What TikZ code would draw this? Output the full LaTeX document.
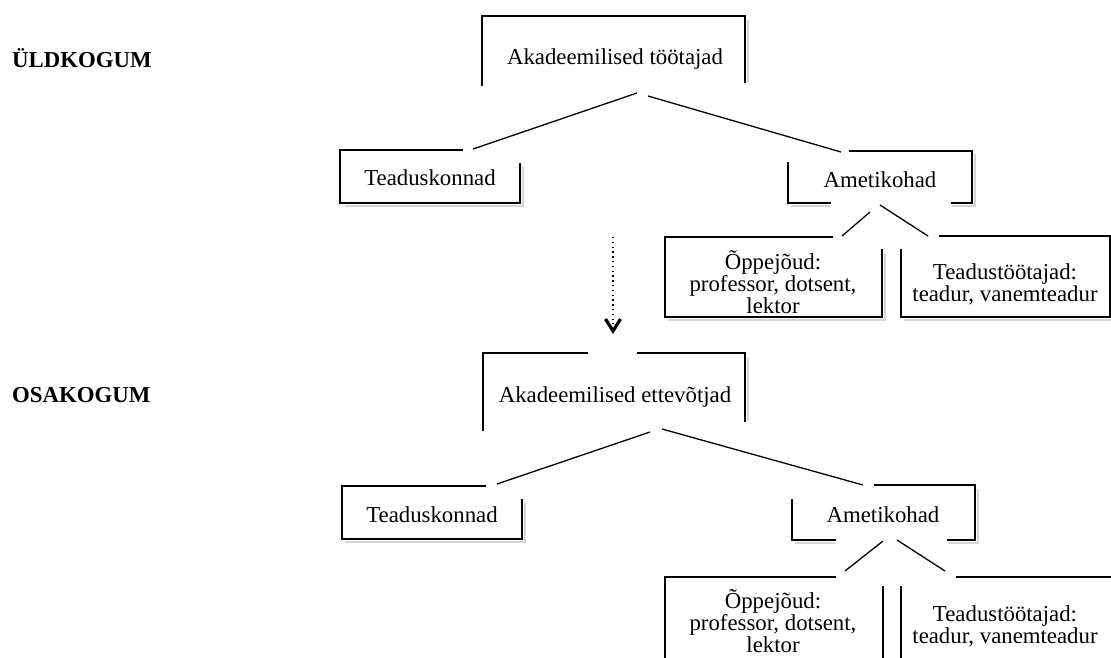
\documentclass[tikz,border=0pt]{standalone}
\usepackage{fontspec}
\setmainfont{Liberation Serif}
\tikzset{
  boxline/.style={line width=1.6pt, line join=miter, line cap=rect},
  shad/.style={line width=2.6pt, black!16},
  conn/.style={line width=1.3pt},
  txt/.style={align=center, inner sep=0pt, font=\fontsize{22.8}{22.3}\selectfont},
  lbl/.style={anchor=west, inner sep=0pt, font=\fontsize{22.8}{22.5}\selectfont\bfseries},
  dots/.style={line width=1.4pt, dash pattern=on 1.4pt off 3.4pt},
  tipline/.style={line width=3.2pt, line join=miter}
}
\begin{document}
\begin{tikzpicture}[x=1pt,y=-1pt]
\useasboundingbox[fill=white] (0,0) rectangle (1111,657);

% ---------- labels ----------
\node[lbl] (lab1) at (12,58) {ÜLDKOGUM};
\node[lbl] (lab2) at (12,395) {OSAKOGUM};

% ---------- shadows ----------
\draw[shad] (345,206) -- (523,206) -- (523,167);
\draw[shad] (791,206) -- (830,206);
\draw[shad] (952,206) -- (975,206) -- (975,154);
\draw[shad] (668,320) -- (885,320) -- (885,253);
\draw[shad] (904,320) -- (1111,320);
\draw[shad] (748,20) -- (748,82);
\draw[shad] (345,542) -- (525,542) -- (525,503);
\draw[shad] (795,543) -- (835,543);
\draw[shad] (948,543) -- (978,543) -- (978,489);
\draw[shad] (748,357) -- (748,421);

% ---------- upper boxes ----------
\draw[boxline] (482,85) -- (482,16) -- (745,16) -- (745,82);
\draw[boxline] (462,150) -- (340,150) -- (340,203) -- (520,203) -- (520,164);
\draw[boxline] (850,151) -- (972,151) -- (972,203) -- (952,203);
\draw[boxline] (830,203) -- (788,203) -- (788,163);
\draw[boxline] (832,237) -- (665,237) -- (665,317) -- (882,317) -- (882,250);
\draw[boxline] (940,236) -- (1110,236) -- (1110,317) -- (901,317) -- (901,250);

% ---------- lower boxes ----------
\draw[boxline] (587,353) -- (483,353) -- (483,430);
\draw[boxline] (638,353) -- (745,353) -- (745,421);
\draw[boxline] (485,486) -- (342,486) -- (342,539) -- (522,539) -- (522,500);
\draw[boxline] (875,485) -- (975,485) -- (975,540) -- (948,540);
\draw[boxline] (835,540) -- (792,540) -- (792,500);
\draw[boxline] (835,577) -- (665,577) -- (665,662);
\draw[boxline] (883,587) -- (883,662);
\draw[boxline] (901,662) -- (901,587);
\draw[boxline] (957,577) -- (1115,577);

% ---------- texts ----------
\node[txt] (a1) at (615,59) {Akadeemilised töötajad};
\node[txt] (t1) at (430,178) {Teaduskonnad};
\node[txt] (m1) at (880,180) {Ametikohad};
\node[txt] (o1) at (773,282) {Õppejõud:\\professor, dotsent,\\lektor};
\node[txt] (r1) at (1005,284) {Teadustöötajad:\\teadur, vanemteadur};

\node[txt] (a2) at (615,397) {Akadeemilised ettevõtjad};
\node[txt] (t2) at (432,515) {Teaduskonnad};
\node[txt] (m2) at (883,515) {Ametikohad};
\node[txt] (o2) at (773,621) {Õppejõud:\\professor, dotsent,\\lektor};
\node[txt] (r2) at (1005,626) {Teadustöötajad:\\teadur, vanemteadur};

% ---------- connector end points ----------
\coordinate (a1L) at (637,93);
\coordinate (a1R) at (648,96);
\coordinate (t1T) at (473,149);
\coordinate (m1T) at (841,152);
\coordinate (m1L) at (870,212);
\coordinate (m1R) at (880,205);
\coordinate (o1T) at (842,236);
\coordinate (r1T) at (928,236);

\coordinate (a2L) at (650,432);
\coordinate (a2R) at (662,429);
\coordinate (t2T) at (497,484);
\coordinate (m2T) at (863,485);
\coordinate (m2L) at (883,541);
\coordinate (m2R) at (897,540);
\coordinate (o2T) at (845,571);
\coordinate (r2T) at (945,571);

\coordinate (arS) at (613,237);
\coordinate (arE) at (613,331);

% ---------- connectors ----------
\draw[conn] (a1L) -- (t1T);
\draw[conn] (a1R) -- (m1T);
\draw[conn] (m1L) -- (o1T);
\draw[conn] (m1R) -- (r1T);

\draw[conn] (a2L) -- (t2T);
\draw[conn] (a2R) -- (m2T);
\draw[conn] (m2L) -- (o2T);
\draw[conn] (m2R) -- (r2T);

% dotted arrow between the two trees
\draw[dots] (arS) -- ([yshift=7pt]arE);
\draw[tipline] ([xshift=-7.5pt,yshift=12pt]arE) -- (arE) -- ([xshift=7.5pt,yshift=12pt]arE);
\end{tikzpicture}
\end{document}
